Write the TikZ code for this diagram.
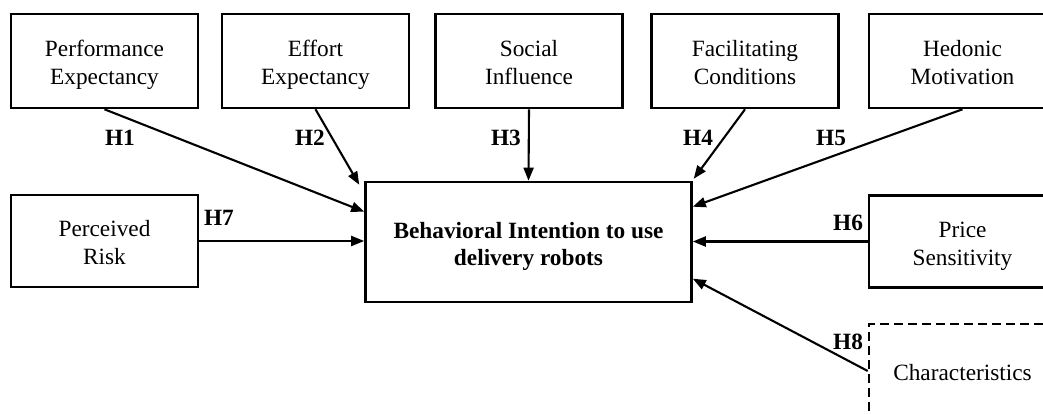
\documentclass[tikz,border=0pt]{standalone}
\usepackage{fontspec}
\setmainfont{Liberation Serif}
\usetikzlibrary{arrows.meta,calc}
\newcommand\lnstrut{\rule[-7pt]{0pt}{33.5pt}}
\newcommand\nolsk{\lineskiplimit=-50pt\relax}
\begin{document}
\begin{tikzpicture}[x=1pt,y=-1pt,
  box/.style={draw,line width=2.6pt,minimum width=187pt,minimum height=94pt,align=center,inner sep=0pt,
    font=\fontsize{23.3}{28}\selectfont\nolsk},
  dbox/.style={box,dash pattern=on 9pt off 5pt},
  mainbox/.style={draw,line width=2.6pt,minimum width=326pt,minimum height=120pt,align=center,inner sep=0pt,
    font=\fontsize{23.3}{27}\selectfont\bfseries\nolsk},
  hlab/.style={font=\fontsize{23.3}{27.5}\selectfont\bfseries,inner sep=0pt},
  arr/.style={line width=2.1pt,-{Triangle[length=13pt,width=10pt]}}]
\useasboundingbox (0,0) rectangle (1043,414);
\clip (0,0) rectangle (1043,414);
\node[box] (pe) at (104.5,61) {\lnstrut Performance\\\lnstrut Expectancy};
\node[box] (ee) at (315.5,61) {\lnstrut Effort\\\lnstrut Expectancy};
\node[box] (si) at (529,61) {\lnstrut Social\\\lnstrut Influence};
\node[box] (fc) at (745,61) {\lnstrut Facilitating\\\lnstrut Conditions};
\node[box] (hm) at (962.5,61) {\lnstrut Hedonic\\\lnstrut Motivation};
\node[box,minimum height=92pt] (pr) at (104.5,241) {\lnstrut Perceived\\\lnstrut Risk};
\node[mainbox] (bi) at (528.5,242) {\lnstrut Behavioral Intention to use\\\lnstrut delivery robots};
\node[box,minimum height=92pt] (ps) at (962.5,241.5) {\lnstrut Price\\\lnstrut Sensitivity};
\node[dbox] (ch) at (962.5,371) {\lnstrut Characteristics};
\coordinate (t1) at ($(bi.north west)+(0,31)$);
\coordinate (t2) at ($(bi.north west)+(-5,4)$);
\coordinate (t4) at ($(bi.north east)+(1,-2)$);
\coordinate (t5) at ($(bi.north east)+(0,26)$);
\coordinate (t8) at ($(bi.north east)+(0,98)$);
\draw[arr] (pe.south) -- (t1);
\draw[arr] (ee.south) -- (t2);
\draw[arr] (si.south) -- (bi.north);
\draw[arr] (fc.south) -- (t4);
\draw[arr] (hm.south) -- (t5);
\draw[arr] (ps.west) -- (bi.east |- ps.west);
\draw[arr] (pr.east) -- (bi.west |- pr.east);
\draw[arr] (ch.west) -- (t8);
\node[hlab] (h1) at (120,138) {H1};
\node[hlab] (h2) at (310,138) {H2};
\node[hlab] (h3) at (506,138) {H3};
\node[hlab] (h4) at (698,138) {H4};
\node[hlab] (h5) at (831,138) {H5};
\node[hlab] (h6) at (848,223) {H6};
\node[hlab] (h7) at (219,218) {H7};
\node[hlab] (h8) at (848,342) {H8};
\end{tikzpicture}
\end{document}
